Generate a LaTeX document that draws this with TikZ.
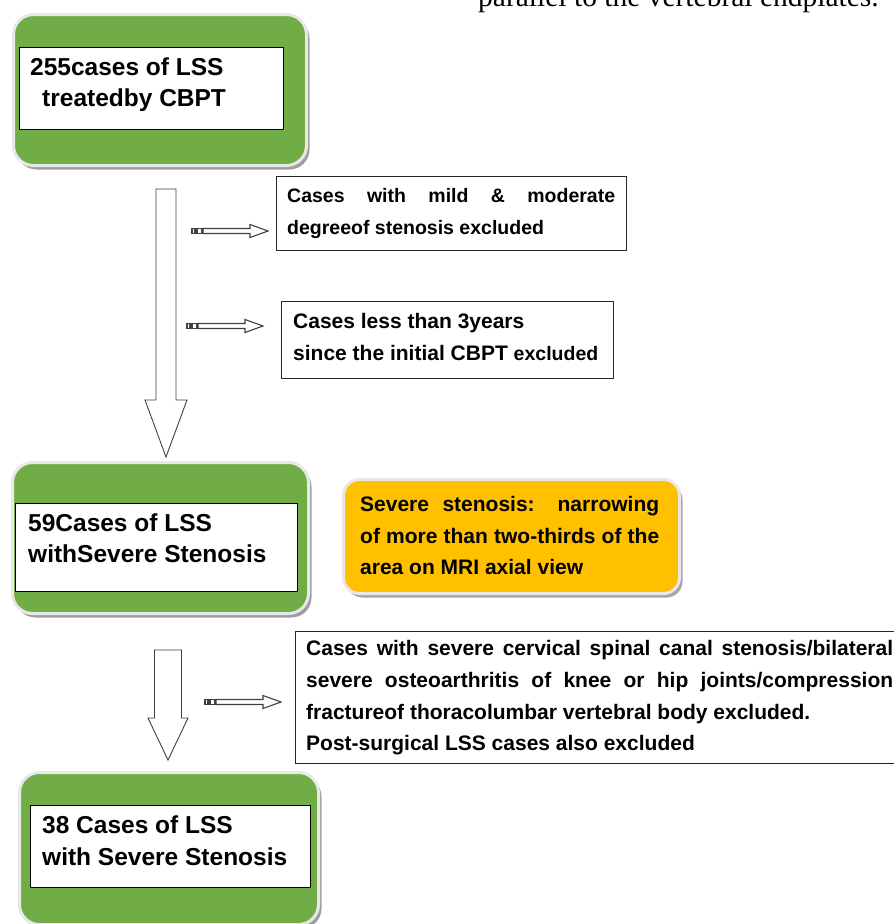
\documentclass[tikz,border=0pt]{standalone}
\usepackage{fontspec}
\setmainfont{Liberation Sans}
\newfontfamily\serifc{Liberation Serif}
\usetikzlibrary{shadows}
\definecolor{gboxc}{HTML}{70AD47}
\definecolor{oboxc}{HTML}{FFC000}
\definecolor{ringc}{HTML}{E8E8E8}
\definecolor{arrc}{HTML}{404040}
\tikzset{
  greenbox/.style={rectangle, rounded corners=20pt, fill=gboxc, draw=ringc, line width=3pt,
    anchor=north west, inner sep=0pt,
    drop shadow={shadow xshift=3pt, shadow yshift=-4pt, fill=black!38, opacity=1}},
  orangebox/.style={rectangle, rounded corners=16pt, fill=oboxc, draw=ringc, line width=3pt,
    anchor=north west, inner sep=0pt,
    drop shadow={shadow xshift=3pt, shadow yshift=-4pt, fill=black!35, opacity=1}},
  whitebox/.style={rectangle, fill=white, draw=black, line width=1.3pt, anchor=north west, inner sep=0pt},
  exclbox/.style={rectangle, fill=white, draw=black!85, line width=1.3pt, anchor=north west, inner sep=0pt},
  txt/.style={anchor=base west, inner sep=0pt, font=\bfseries\fontsize{21}{25}\selectfont},
  bigtxt/.style={txt, font=\bfseries\fontsize{24.5}{30}\selectfont},
  smalltxt/.style={txt, font=\bfseries\fontsize{19.5}{24}\selectfont},
  blockarrow/.style={draw=arrc, line width=0.9pt, fill=white, line join=miter},
  sarrow/.pic={
    \draw[blockarrow, line width=1.1pt] (0,-2.5) rectangle (3,2.5);
    \draw[blockarrow, line width=1.1pt] (5,-2.5) rectangle (10,2.5);
    \draw[blockarrow, line width=1.1pt] (11,-2.5) -- (58,-2.5) -- (58,-6.5) -- (76,0) -- (58,6.5) -- (58,2.5) -- (11,2.5) -- cycle;
  }
}
\newcommand{\jline}[2]{\makebox[#1pt][s]{#2}}
\begin{document}
\begin{tikzpicture}[x=1pt,y=-1pt]
\useasboundingbox (0,0) rectangle (894,924);
\clip (0,0) rectangle (894,924);
\fill[white] (0,0) rectangle (894,924);

% cut-off text of the page above
\node[anchor=base west, inner sep=0pt, font=\serifc\fontsize{29.5}{34}\selectfont] (pagetext) at (478,6) {parallel to the vertebral endplates.};

% ---------- green box 1 ----------
\node[greenbox, minimum width=293pt, minimum height=151pt] (g1) at (12,13) {};
\node[whitebox, minimum width=264pt, minimum height=82pt] (w1) at (19,47) {};
\node[bigtxt] (t1a) at (30,75.6) {255cases of LSS};
\node[bigtxt] (t1b) at (42,106.6) {treatedby CBPT};

% ---------- big arrow 1 ----------
\coordinate (a1s) at (166,189);
\draw[blockarrow] (a1s) ++(-10,0) -- ++(20,0) -- ++(0,211) -- ++(11,0) -- ++(-21,57) -- ++(-21,-57) -- ++(11,0) -- cycle;

% ---------- exclusion box A ----------
\node[exclbox, minimum width=350pt, minimum height=74pt] (ea) at (276,176) {};
\node[smalltxt] (ea1) at (287,202) {\jline{328}{Cases with mild \& moderate}};
\node[smalltxt] (ea2) at (287,234) {degreeof stenosis excluded};
\pic at (192,231) {sarrow};

% ---------- exclusion box B ----------
\node[exclbox, minimum width=332pt, minimum height=77pt] (eb) at (281,301) {};
\node[txt] (eb1) at (293,328.5) {Cases less than 3years};
\node[txt] (eb2) at (293,360.5) {since the initial CBPT {\fontsize{19.5}{22}\selectfont excluded}};
\pic at (187,326) {sarrow};

% ---------- green box 2 ----------
\node[greenbox, minimum width=296pt, minimum height=151pt] (g2) at (11,461) {};
\node[whitebox, minimum width=282pt, minimum height=88pt] (w2) at (15,503) {};
\node[bigtxt] (t2a) at (28,531) {59Cases of LSS};
\node[bigtxt] (t2b) at (28,562) {withSevere Stenosis};

% ---------- orange definition box ----------
\node[orangebox, minimum width=336pt, minimum height=114pt] (ob) at (342,478) {};
\node[txt] (o1) at (360,511.5) {\jline{299}{Severe stenosis: narrowing}};
\node[txt] (o2) at (360,543.5) {\jline{299}{of more than two-thirds of the}};
\node[txt] (o3) at (360,574.5) {area on MRI axial view};

% ---------- big arrow 2 ----------
\coordinate (a2s) at (168,650);
\draw[blockarrow] (a2s) ++(-13.5,0) -- ++(27,0) -- ++(0,68) -- ++(6.5,0) -- ++(-20,42) -- ++(-20,-42) -- ++(6.5,0) -- cycle;

% ---------- exclusion box C ----------
\node[exclbox, minimum width=620pt, minimum height=132pt] (ec) at (295,631) {};
\node[txt] (c1) at (306,655.5) {\jline{587}{Cases with severe cervical spinal canal stenosis/bilateral}};
\node[txt] (c2) at (306,687.5) {\jline{587}{severe osteoarthritis of knee or hip joints/compression}};
\node[txt] (c3) at (306,719.5) {fractureof thoracolumbar vertebral body excluded.};
\node[txt] (c4) at (306,750.5) {Post-surgical LSS cases also excluded};
\pic at (205,702) {sarrow};

% ---------- green box 3 ----------
\node[greenbox, minimum width=299pt, minimum height=152pt] (g3) at (18,771) {};
\node[whitebox, minimum width=280pt, minimum height=82pt] (w3) at (30,805) {};
\node[bigtxt] (t3a) at (42,833) {38 Cases of LSS};
\node[bigtxt] (t3b) at (42,865) {with Severe Stenosis};
\end{tikzpicture}
\end{document}
